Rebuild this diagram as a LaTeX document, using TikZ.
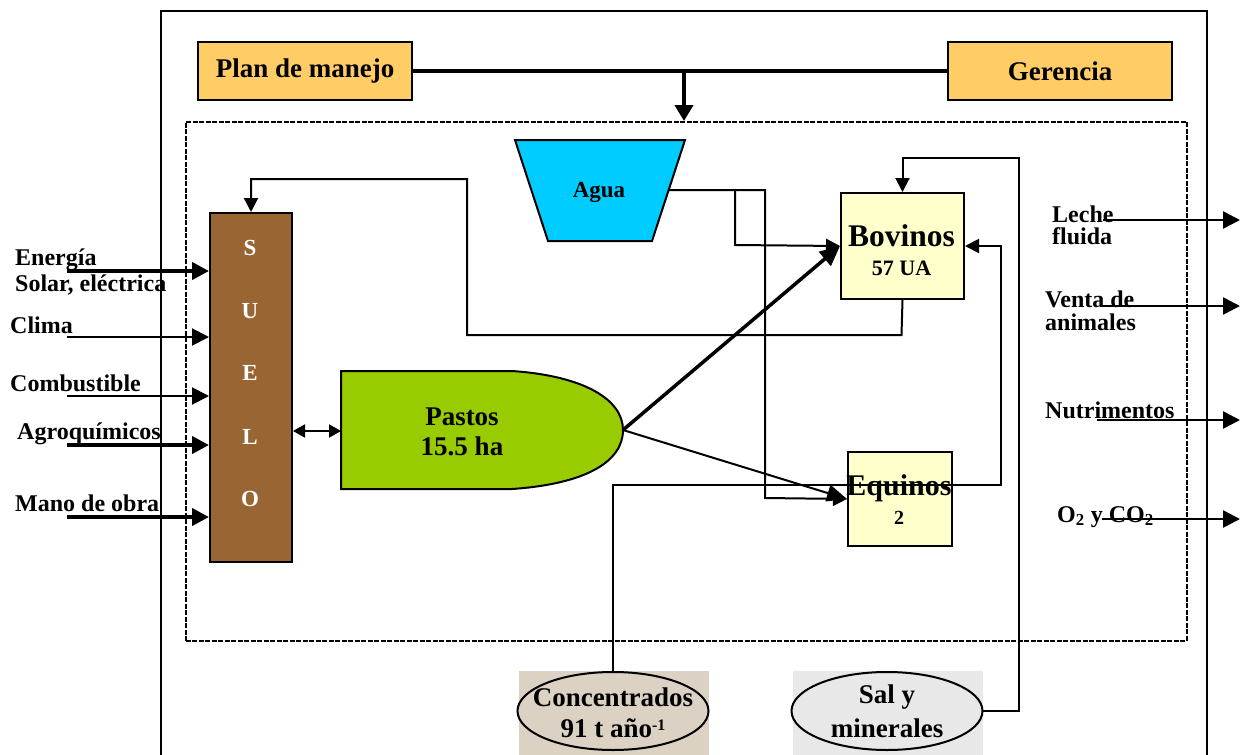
\documentclass[tikz,border=0pt]{standalone}
\usepackage{fontspec}
\setmainfont{Liberation Serif}
\usetikzlibrary{arrows.meta}
\definecolor{soil}{HTML}{996633}
\definecolor{water}{HTML}{00CCFF}
\definecolor{grass}{HTML}{99CC00}
\definecolor{mgmt}{HTML}{FFCC66}
\definecolor{animal}{HTML}{FFFFCC}
\definecolor{concbg}{HTML}{DCD2C4}
\definecolor{salbg}{HTML}{E8E8E8}
\tikzset{
  lbl/.style={font=\fontsize{24}{26}\selectfont\bfseries, inner sep=0pt, anchor=base west},
  txt/.style={inner sep=0pt, font=\bfseries},
  tipA/.style={-{Triangle[length=17pt,width=17pt]}},
  tipB/.style={-{Triangle[length=14pt,width=14pt]}},
  tipC/.style={-{Triangle[length=20pt,width=18pt]}},
  thinline/.style={line width=2pt},
  thickline/.style={line width=4pt},
  box/.style={draw, line width=2pt, inner sep=0pt},
}
\begin{document}
\begin{tikzpicture}[x=1pt,y=-1pt]
\useasboundingbox (0,0) rectangle (1240,755);
% outer frame
\draw[line width=2pt] (161,755) -- (161,11) -- (1207,11) -- (1207,755);
% system boundary
\node[draw, line width=1.5pt, dash pattern=on 5pt off 1.5pt, inner sep=0pt, anchor=north west, minimum width=1001pt, minimum height=519pt] (sys) at (185,121) {};
% management
\node[box, fill=mgmt, anchor=north west, minimum width=214pt, minimum height=58pt, font=\fontsize{27}{27}\selectfont\bfseries] (plan) at (197,41) {Plan de manejo};
\node[box, fill=mgmt, anchor=north west, minimum width=224pt, minimum height=58pt, font=\fontsize{27}{27}\selectfont\bfseries] (ger) at (947,41) {Gerencia};
\coordinate (mid) at (684,71);
\draw[thickline] (plan.east) -- (ger.west);
\draw[thickline, -{Triangle[length=16pt,width=18pt]}] (mid) -- (mid |- sys.north);
% SUELO
\node[box, fill=soil, anchor=north west, minimum width=82pt, minimum height=349pt] (suelo) at (209,212) {};
\foreach \l/\yy [count=\i] in {S/248,U/311,E/373,L/437,O/499}
  \node[txt, text=white, font=\fontsize{23}{23}\selectfont\bfseries] (s\i) at (250,\yy) {\l};
% Agua
\draw[line width=2pt, fill=water] (515,140) -- (685,140) -- (652,241) -- (548,241) -- cycle;
\node[txt, font=\fontsize{23}{23}\selectfont\bfseries] (agua) at (599,192) {Agua};
\coordinate (aguaR) at (668.5,190);
% Pastos
\draw[line width=2pt, fill=grass] (341,371) -- (512,371) .. controls (585,376) and (623,400) .. (623,430) .. controls (623,462) and (585,484) .. (512,489) -- (341,489) -- cycle;
\coordinate (pastW) at (341,431);
\coordinate (pastE) at (623,430);
\node[txt, font=\fontsize{27}{27}\selectfont\bfseries] (past1) at (462,417) {Pastos};
\node[txt, font=\fontsize{27}{27}\selectfont\bfseries] (past2) at (462,446) {15.5 ha};
% Animals
\node[box, fill=animal, anchor=north west, minimum width=123pt, minimum height=106pt] (bov) at (840,192) {};
\node[txt, font=\fontsize{31.5}{31.5}\selectfont\bfseries] (bov1) at (901.5,236) {Bovinos};
\node[txt, font=\fontsize{22}{22}\selectfont\bfseries] (bov2) at (901.5,268) {57 UA};
\node[box, fill=animal, anchor=north west, minimum width=104pt, minimum height=94pt] (equ) at (847,451) {};
% bottom inputs
\fill[concbg] (519,671) rectangle (709,755);
\fill[salbg] (793,671) rectangle (983,755);
\draw[line width=2pt] (613,711) ellipse [x radius=95.5, y radius=39];
\coordinate (concN) at (613,672);
\node[txt, font=\fontsize{27}{27}\selectfont\bfseries] (conc1) at (613,697) {Concentrados};
\node[txt, font=\fontsize{27}{27}\selectfont\bfseries] (conc2) at (613,728) {91 t año{\fontsize{16}{16}\selectfont\raisebox{7pt}{-1}}};
\draw[line width=2pt] (887,711) ellipse [x radius=95.5, y radius=39];
\coordinate (salE) at (982.5,711);
\node[txt, font=\fontsize{27}{27}\selectfont\bfseries] (sal1) at (887,697) {Sal y};
\node[txt, font=\fontsize{27}{27}\selectfont\bfseries] (sal2) at (887,728) {minerales};
% internal flows
\draw[thinline, tipB] (aguaR) -- (765,190) -- (765,498) -- (equ.west);
\draw[thinline, tipB] (735,190) -- (735,245) -- (bov.west);
\draw[line width=3.5pt, tipC] (pastE) -- (bov.west);
\draw[thinline, -{Triangle[length=20pt,width=17pt]}] (pastE) -- (equ.west);
\draw[thinline, tipB] (bov.south) -- (901.5,335) -| (467,179) -| (suelo.north);
\draw[thinline, tipB] (salE) -| (1019,158) -| (bov.north);
\draw[thinline, tipB] (concN) |- (1001,485) |- (bov.east);
\draw[thinline, {Triangle[length=12pt,width=13pt]}-{Triangle[length=12pt,width=13pt]}] (pastW -| suelo.east) -- (pastW);
\node[txt, font=\fontsize{30}{30}\selectfont\bfseries] (equ1) at (899,488) {Equinos};
\node[txt, font=\fontsize{20}{20}\selectfont\bfseries] (equ2) at (899,518) {2};
% left inputs
\foreach \n/\yy/\w in {i1/271/4, i2/337/2, i3/396/2, i4/445/4, i5/517/4} {
  \coordinate (\n) at (67,\yy);
  \draw[line width=\w pt, tipA] (\n) -- (\n -| suelo.west);
}
\node[lbl] (l1a) at (15,265) {Energía};
\node[lbl] (l1b) at (15,291) {Solar, eléctrica};
\node[lbl] (l2) at (10,333) {Clima};
\node[lbl] (l3) at (10,391) {Combustible};
\node[lbl] (l4) at (17,439) {Agroquímicos};
\node[lbl] (l5) at (15,511) {Mano de obra};
% right outputs
\foreach \n/\xx/\yy in {o1/1103/220, o2/1100/306, o3/1097/420, o4/1102/519} {
  \coordinate (\n) at (\xx,\yy);
  \coordinate (\n e) at (1240,\yy);
  \draw[line width=2.5pt, tipA] (\n) -- (\n e);
}
\node[lbl] (r1a) at (1052,222) {Leche};
\node[lbl] (r1b) at (1052,244) {fluida};
\node[lbl] (r2a) at (1045,307) {Venta de};
\node[lbl] (r2b) at (1045,330) {animales};
\node[lbl] (r3) at (1045,418) {Nutrimentos};
\node[lbl] (r4) at (1057,522) {O\textsubscript{2} y CO\textsubscript{2}};
\end{tikzpicture}
\end{document}
